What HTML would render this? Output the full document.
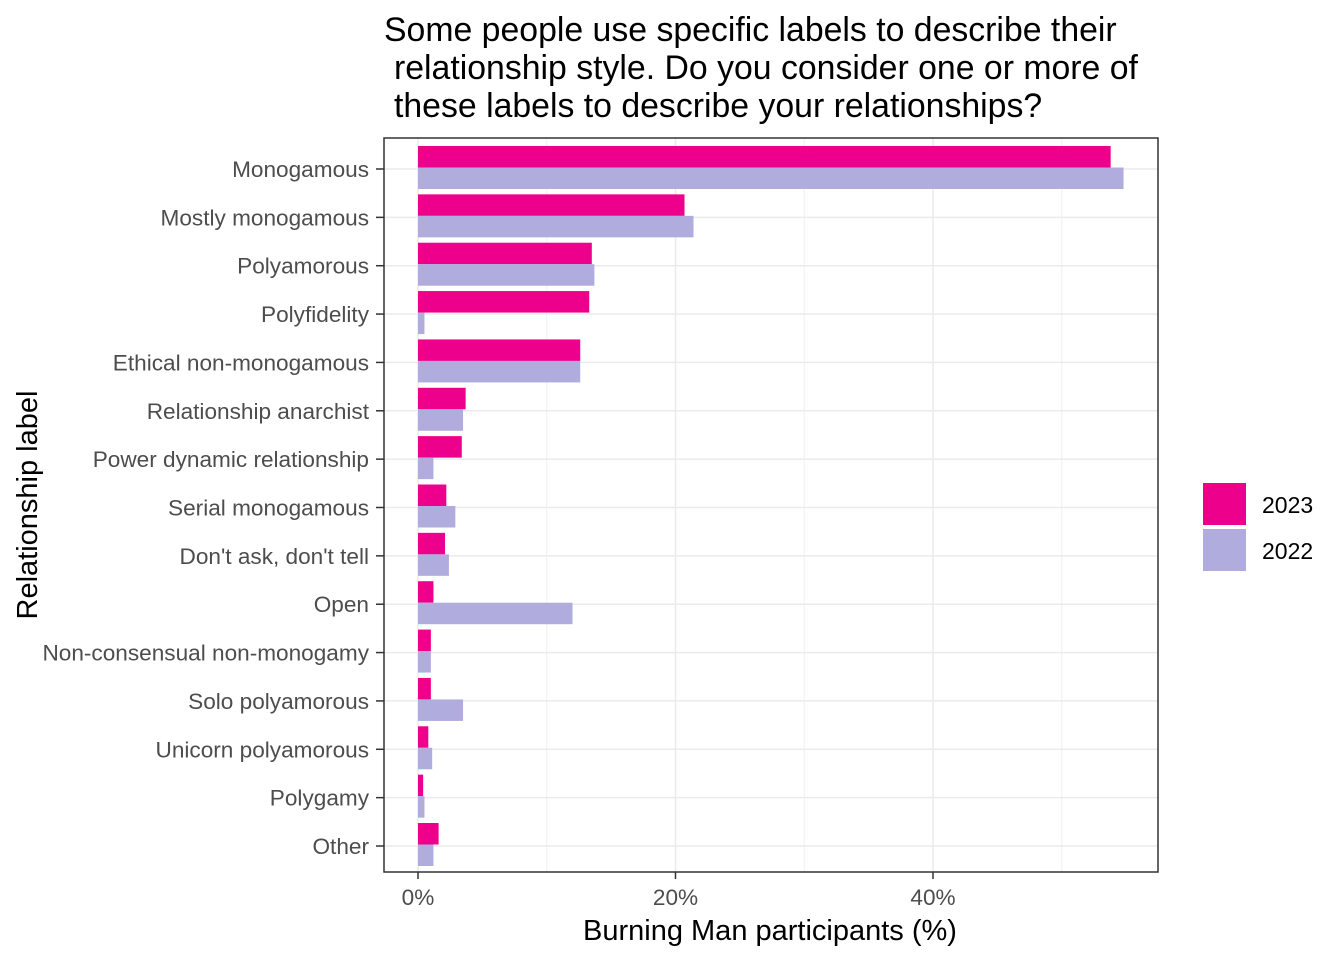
<!DOCTYPE html>
<html><head><meta charset="utf-8"><style>
body{margin:0;background:#fff;font-family:"Liberation Sans",Arial,sans-serif}
svg text{font-family:"Liberation Sans",Arial,sans-serif}
</style></head><body>
<svg id="c" width="1344" height="960" xmlns="http://www.w3.org/2000/svg"></svg>
<script>
const categories=["Monogamous","Mostly monogamous","Polyamorous","Polyfidelity","Ethical non-monogamous","Relationship anarchist","Power dynamic relationship","Serial monogamous","Don't ask, don't tell","Open","Non-consensual non-monogamy","Solo polyamorous","Unicorn polyamorous","Polygamy","Other"];
const values2023=[53.8,20.7,13.5,13.3,12.6,3.7,3.4,2.2,2.1,1.2,1.0,1.0,0.8,0.4,1.6];
const values2022=[54.8,21.4,13.7,0.5,12.6,3.5,1.2,2.9,2.4,12.0,1.0,3.5,1.1,0.5,1.2];
const xTicks=[0,20,40];
const xTickLabels=["0%","20%","40%"];
const xMinor=[10,30,50];
const NS="http://www.w3.org/2000/svg";
const svg=document.getElementById('c');
function el(t,a,p){const e=document.createElementNS(NS,t);for(const k in a)e.setAttribute(k,a[k]);(p||svg).appendChild(e);return e;}
const L=384,R=1158,T=138,B=872;
const x=v=>418+v*12.875;
const y=i=>169+i*(846-169)/14;
const bw=21.5;
el('rect',{x:L,y:T,width:R-L,height:B-T,fill:'#fff'});
xMinor.forEach(v=>{const g=el('line',{x1:x(v),x2:x(v),y1:T,y2:B,stroke:'#f0f0f0','stroke-width':1});
});
xTicks.forEach(v=>{const g=el('line',{x1:x(v),x2:x(v),y1:T,y2:B,stroke:'#ebebeb','stroke-width':1.5});
});
categories.forEach((c,i)=>{const g=el('line',{x1:L,x2:R,y1:y(i),y2:y(i),stroke:'#ebebeb','stroke-width':1.5});
});
categories.forEach((c,i)=>{
const m=y(i)-1.5;
const a=el('rect',{x:x(0),y:m-bw,width:x(values2023[i])-x(0),height:bw,fill:'#EC008C'});

const b=el('rect',{x:x(0),y:m,width:x(values2022[i])-x(0),height:bw,fill:'#B0ACDD'});

const tk=el('line',{x1:376,x2:L,y1:y(i),y2:y(i),stroke:'#333','stroke-width':1.5});

const t=el('text',{x:369,y:y(i)+8,'text-anchor':'end','font-size':22.6,fill:'#4d4d4d'});t.textContent=c;

});
xTicks.forEach((v,i)=>{
const tk=el('line',{x1:x(v),x2:x(v),y1:B,y2:B+7,stroke:'#333','stroke-width':1.5});

const t=el('text',{x:x(v),y:905,'text-anchor':'middle','font-size':22.6,fill:'#4d4d4d'});t.textContent=xTickLabels[i];

});
const fr=el('rect',{x:L,y:T,width:R-L,height:B-T,fill:'none',stroke:'#333','stroke-width':1.5});

const xt=el('text',{x:770,y:940,'text-anchor':'middle','font-size':29,fill:'#000'});xt.textContent='Burning Man participants (%)';

const yt=el('text',{x:0,y:0,transform:'translate(37,505) rotate(-90)','text-anchor':'middle','font-size':29,fill:'#000'});yt.textContent='Relationship label';

[[384,"Some people use specific labels to describe their"],[394,"relationship style. Do you consider one or more of"],[394,"these labels to describe your relationships?"]].forEach(([xx,s],i)=>{
const t=el('text',{x:xx,y:41+i*38,'font-size':33.8,fill:'#000'});t.textContent=s;
});
[["2023","#EC008C",483],["2022","#B0ACDD",529]].forEach(([n,c,yy])=>{
const r=el('rect',{x:1203,y:yy,width:43,height:42,fill:c});

const t=el('text',{x:1262,y:yy+30,'font-size':23,fill:'#000'});t.textContent=n;
});
</script>
</body></html>
